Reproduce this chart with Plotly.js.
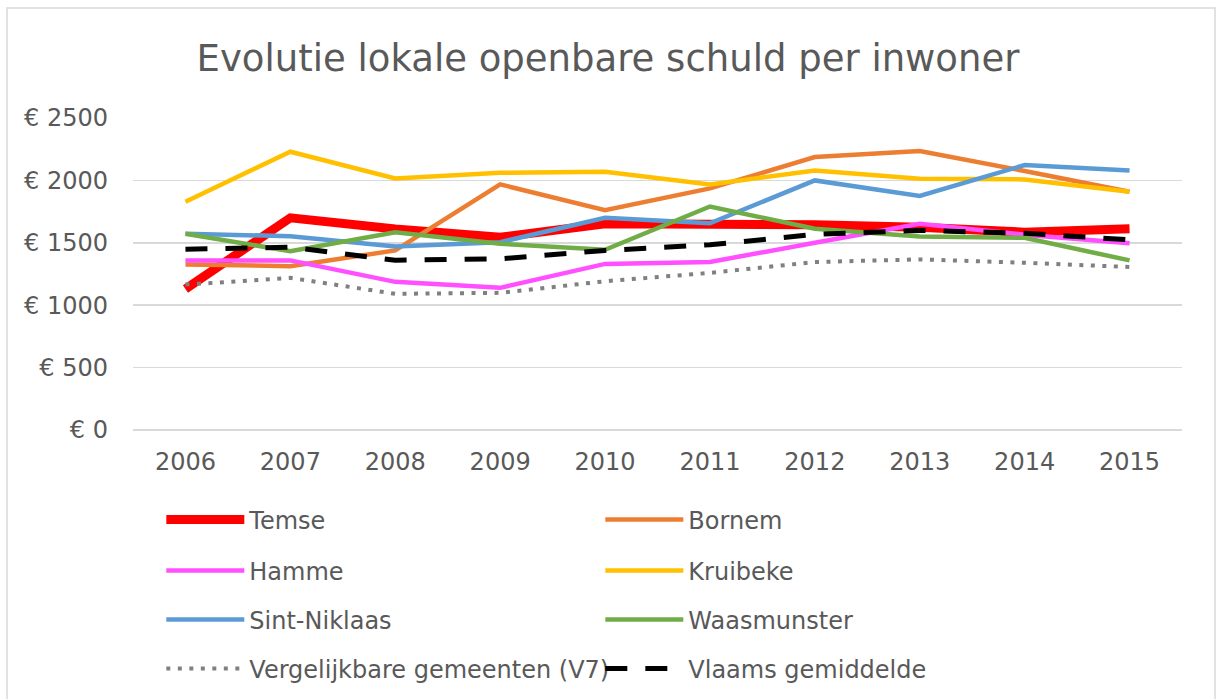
<!DOCTYPE html>
<html>
<head>
<meta charset="utf-8">
<script src="https://cdn.plot.ly/plotly-3.0.1.min.js"></script>
<style>
  html, body { margin: 0; padding: 0; background: #ffffff; }
  #chart { width: 1216px; height: 699px; }
</style>
</head>
<body>
<div id="chart"></div>
<script>
// ---- Data ----
const years = ['2006', '2007', '2008', '2009', '2010', '2011', '2012', '2013', '2014', '2015'];
const temse       = [1130, 1700, 1610, 1545, 1652, 1655, 1644, 1625, 1585, 1612];
const bornem      = [1326, 1313, 1439, 1968, 1762, 1936, 2187, 2235, 2075, 1909];
const hamme       = [1359, 1359, 1187, 1139, 1331, 1347, 1500, 1652, 1565, 1497];
const kruibeke    = [1829, 2230, 2016, 2061, 2069, 1968, 2080, 2013, 2008, 1909];
const sintNiklaas = [1572, 1553, 1471, 1505, 1700, 1657, 2000, 1875, 2123, 2080];
const waasmunster = [1572, 1433, 1585, 1492, 1444, 1791, 1612, 1551, 1540, 1359];
const v7          = [1165, 1219, 1091, 1099, 1192, 1259, 1346, 1367, 1340, 1306];
const vlaams      = [1449, 1465, 1360, 1372, 1439, 1484, 1567, 1599, 1577, 1524];

const seriesNames = ['Temse', 'Bornem', 'Hamme', 'Kruibeke', 'Sint-Niklaas', 'Waasmunster',
                     'Vergelijkbare gemeenten (V7)', 'Vlaams gemiddelde'];
const yTickVals = [0, 500, 1000, 1500, 2000, 2500];
const yTickText = ['€ 0', '€ 500', '€ 1000', '€ 1500', '€ 2000', '€ 2500'];

const textColor = '#595959';
const gridColor = '#d9d9d9';
const FONT = 'DejaVu Sans, Verdana, sans-serif';

function line(name, y, color, width, dash, legend) {
  return {
    type: 'scatter', mode: 'lines', name: name, x: years, y: y,
    line: { color: color, width: width, dash: dash || 'solid' },
    legend: legend, hoverinfo: 'skip'
  };
}

const data = [
  line(seriesNames[0], temse,       '#FF0000', 9,   'solid', 'legend'),
  line(seriesNames[1], bornem,      '#ED7D31', 4.5, 'solid', 'legend'),
  line(seriesNames[2], hamme,       '#FF4FFF', 4.5, 'solid', 'legend2'),
  line(seriesNames[3], kruibeke,    '#FFC000', 4.5, 'solid', 'legend2'),
  line(seriesNames[4], sintNiklaas, '#5B9BD5', 4.5, 'solid', 'legend3'),
  line(seriesNames[5], waasmunster, '#70AD47', 4.5, 'solid', 'legend3'),
  line(seriesNames[6], v7,          '#808080', 4,   '4px,7.5px', 'legend4'),
  line(seriesNames[7], vlaams,      '#000000', 5,   '22px,18px', 'legend4')
];

function legendAt(y) {
  return {
    orientation: 'h', x: 0.027, xanchor: 'left', y: y, yanchor: 'middle',
    font: { family: FONT, size: 24, color: textColor },
    itemwidth: 78, entrywidth: 346, bgcolor: 'rgba(0,0,0,0)', traceorder: 'normal'
  };
}

const layout = {
  width: 1216, height: 699,
  margin: { l: 133, r: 34, t: 118, b: 269, autoexpand: false },
  paper_bgcolor: '#ffffff', plot_bgcolor: '#ffffff',
  font: { family: FONT, color: textColor },
  title: {
    text: 'Evolutie lokale openbare schuld per inwoner',
    font: { family: FONT, size: 37, color: textColor },
    x: 0.5, xref: 'container', xanchor: 'center',
    y: 1 - 58 / 699, yref: 'container', yanchor: 'middle'
  },
  xaxis: {
    type: 'category', range: [-0.5, 9.5],
    showgrid: false, zeroline: false, showline: false, ticks: '',
    tickfont: { family: FONT, size: 24, color: textColor },
    ticklabelstandoff: 15, fixedrange: true
  },
  yaxis: {
    range: [0, 2500], tickvals: yTickVals, ticktext: yTickText,
    showgrid: true, gridcolor: gridColor, gridwidth: 1.5,
    zeroline: true, zerolinecolor: gridColor, zerolinewidth: 1.5,
    showline: false, ticks: '',
    tickfont: { family: FONT, size: 24, color: textColor },
    ticklabelstandoff: 24, fixedrange: true
  },
  showlegend: true,
  legend:  legendAt((430 - 520) / 312),
  legend2: legendAt((430 - 571) / 312),
  legend3: legendAt((430 - 620) / 312),
  legend4: legendAt((430 - 669) / 312),
  shapes: [{
    type: 'rect', xref: 'paper', yref: 'paper',
    x0: (7 - 133) / 1049, x1: (1215 - 133) / 1049,
    y0: (430 - 710) / 312, y1: (430 - 8) / 312,
    line: { color: gridColor, width: 1.5 }, fillcolor: 'rgba(0,0,0,0)', layer: 'below'
  }]
};

Plotly.newPlot('chart', data, layout, { displayModeBar: false, staticPlot: true });
</script>
</body>
</html>
